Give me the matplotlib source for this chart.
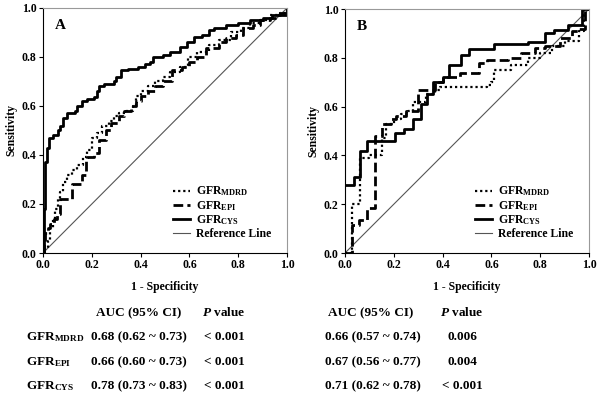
import numpy as np
import matplotlib
matplotlib.use("Agg")
import matplotlib.pyplot as plt

# ---- ROC data, points are (x where the curve steps up, y after step) ----
# Panel A
a_mdrd_x = [0, 0.01, 0.02, 0.03, 0.04, 0.05, 0.06, 0.07, 0.08, 0.10, 0.12, 0.14, 0.165, 0.18, 0.20, 0.22,
            0.24, 0.27, 0.29, 0.31, 0.34, 0.37, 0.38, 0.40, 0.43, 0.46, 0.49, 0.52, 0.56, 0.595, 0.63, 0.68,
            0.72, 0.77, 0.81, 0.85, 0.89, 0.93, 0.97, 1.0]
a_mdrd_y = [0, 0.02, 0.05, 0.10, 0.14, 0.18, 0.22, 0.25, 0.29, 0.32, 0.34, 0.36, 0.39, 0.42, 0.47, 0.49,
            0.52, 0.54, 0.56, 0.57, 0.58, 0.60, 0.64, 0.66, 0.68, 0.70, 0.72, 0.74, 0.76, 0.80, 0.82, 0.85,
            0.87, 0.90, 0.92, 0.94, 0.95, 0.97, 0.98, 1.0]

a_epi_x = [0, 0.005, 0.01, 0.02, 0.03, 0.045, 0.056, 0.07, 0.117, 0.16, 0.175, 0.18, 0.21, 0.23, 0.26,
           0.28, 0.31, 0.33, 0.36, 0.38, 0.40, 0.43, 0.46, 0.49, 0.53, 0.57, 0.60, 0.63, 0.67, 0.72, 0.75,
           0.79, 0.82, 0.86, 0.89, 0.93, 0.96, 1.0]
a_epi_y = [0, 0.04, 0.08, 0.10, 0.12, 0.14, 0.16, 0.22, 0.28, 0.32, 0.38, 0.39, 0.41, 0.46, 0.50,
           0.53, 0.56, 0.58, 0.60, 0.62, 0.64, 0.66, 0.68, 0.70, 0.745, 0.76, 0.78, 0.80, 0.836, 0.86, 0.876,
           0.89, 0.917, 0.93, 0.95, 0.96, 0.97, 1.0]

a_cys_x = [0, 0.005, 0.01, 0.015, 0.025, 0.04, 0.06, 0.07, 0.08, 0.10, 0.13, 0.14, 0.16, 0.18, 0.21,
           0.22, 0.23, 0.25, 0.29, 0.30, 0.32, 0.35, 0.39, 0.42, 0.44, 0.45, 0.49, 0.52, 0.56, 0.59, 0.62,
           0.65, 0.68, 0.70, 0.75, 0.80, 0.85, 0.90, 0.94, 0.97, 1.0]
a_cys_y = [0, 0.18, 0.37, 0.43, 0.47, 0.48, 0.50, 0.52, 0.55, 0.57, 0.58, 0.60, 0.62, 0.63, 0.635,
           0.66, 0.68, 0.69, 0.70, 0.72, 0.745, 0.75, 0.76, 0.77, 0.78, 0.80, 0.81, 0.82, 0.84, 0.86, 0.88,
           0.89, 0.91, 0.92, 0.93, 0.94, 0.95, 0.96, 0.97, 0.98, 1.0]

# Panel B
b_mdrd_x = [0, 0.03, 0.06, 0.10, 0.15, 0.17, 0.20, 0.23, 0.26, 0.28, 0.33, 0.37, 0.39, 0.58, 0.60,
            0.61, 0.68, 0.75, 0.80, 0.85, 0.90, 0.96, 0.98, 1.0]
b_mdrd_y = [0, 0.20, 0.39, 0.40, 0.47, 0.53, 0.55, 0.57, 0.58, 0.62, 0.65, 0.67, 0.68, 0.69, 0.70,
            0.75, 0.77, 0.80, 0.82, 0.85, 0.87, 0.91, 1.0, 1.0]

b_epi_x = [0, 0.03, 0.056, 0.09, 0.124, 0.15, 0.19, 0.21, 0.25, 0.30, 0.37, 0.40, 0.47, 0.55, 0.58,
           0.67, 0.72, 0.78, 0.82, 0.88, 0.93, 0.96, 0.985, 1.0]
b_epi_y = [0, 0.115, 0.135, 0.183, 0.48, 0.53, 0.55, 0.56, 0.58, 0.67, 0.70, 0.72, 0.736, 0.777, 0.79,
           0.80, 0.82, 0.84, 0.85, 0.88, 0.91, 0.92, 1.0, 1.0]

b_cys_x = [0, 0.035, 0.06, 0.09, 0.205, 0.24, 0.28, 0.31, 0.335, 0.36, 0.40, 0.425, 0.475, 0.51, 0.61,
           0.75, 0.82, 0.855, 0.915, 0.97, 1.0]
b_cys_y = [0.28, 0.31, 0.42, 0.46, 0.49, 0.51, 0.55, 0.61, 0.65, 0.70, 0.72, 0.77, 0.81, 0.835, 0.855,
           0.866, 0.90, 0.915, 0.934, 1.0, 1.0]

# ---- AUC table ----
row_labels = ["GFR$_{\\mathbf{MDRD}}$", "GFR$_{\\mathbf{EPI}}$", "GFR$_{\\mathbf{CYS}}$"]
auc_a = ["0.68 (0.62 ~ 0.73)", "0.66 (0.60 ~ 0.73)", "0.78 (0.73 ~ 0.83)"]
p_a = ["< 0.001", "< 0.001", "< 0.001"]
auc_b = ["0.66 (0.57 ~ 0.74)", "0.67 (0.56 ~ 0.77)", "0.71 (0.62 ~ 0.78)"]
p_b = ["0.006", "0.004", "< 0.001"]

ticks = [0.0, 0.2, 0.4, 0.6, 0.8, 1.0]
tick_labels = ["0.0", "0.2", "0.4", "0.6", "0.8", "1.0"]

plt.rcParams['font.family'] = ['Liberation Serif', 'DejaVu Serif']
plt.rcParams['font.weight'] = 'bold'
plt.rcParams['mathtext.fontset'] = 'custom'
plt.rcParams['mathtext.rm'] = 'Liberation Serif:bold'
plt.rcParams['mathtext.bf'] = 'Liberation Serif:bold'
plt.rcParams['mathtext.it'] = 'Liberation Serif:bold:italic'
plt.rcParams['mathtext.bfit'] = 'Liberation Serif:bold:italic'

W, H = 600, 396
fig = plt.figure(figsize=(6, 3.96), dpi=100)


def px_axes(x0, y0, x1, y1):
    return fig.add_axes([x0 / W, 1 - y1 / H, (x1 - x0) / W, (y1 - y0) / H])


def draw_panel(ax, letter, mdrd, epi, cys):
    ref, = ax.plot([0, 1], [0, 1], color='#555555', lw=0.8, zorder=1)
    l1, = ax.plot(mdrd[0], mdrd[1], drawstyle='steps-post', color='black', lw=1.6,
                  linestyle=(0, (1, 1.3)))
    l2, = ax.plot(epi[0], epi[1], drawstyle='steps-post', color='black', lw=2.0,
                  linestyle=(0, (3.5, 1.5)))
    l3, = ax.plot(cys[0], cys[1], drawstyle='steps-post', color='black', lw=2.0)
    ax.set_xlim(0, 1)
    ax.set_ylim(0, 1)
    ax.set_xticks(ticks)
    ax.set_xticklabels(tick_labels)
    ax.set_yticks(ticks)
    ax.set_yticklabels(tick_labels)
    ax.tick_params(direction='out', length=3, width=0.8, labelsize=8.5, pad=1.5)
    for s in ['top', 'right']:
        ax.spines[s].set_color('#999999')
        ax.spines[s].set_linewidth(0.8)
    for s in ['left', 'bottom']:
        ax.spines[s].set_color('black')
        ax.spines[s].set_linewidth(0.8)
    ax.set_ylabel('Sensitivity', fontsize=8.5, fontweight='bold', labelpad=3)
    ax.set_xlabel('1 - Specificity', fontsize=8.5, fontweight='bold', labelpad=7)
    ax.text(0.05, 0.93, letter, transform=ax.transAxes, fontsize=11, fontweight='bold',
            va='center', ha='left')
    ax.legend([l1, l2, l3, ref], row_labels + ['Reference Line'],
              loc='lower right', bbox_to_anchor=(0.97, 0.02), frameon=False, fontsize=8.5,
              handlelength=1.5, handletextpad=0.5, labelspacing=0.05, borderaxespad=0.3)


axA = px_axes(43, 8, 287, 253)
draw_panel(axA, 'A', (a_mdrd_x, a_mdrd_y), (a_epi_x, a_epi_y), (a_cys_x, a_cys_y))

axB = px_axes(345, 9, 589, 253)
draw_panel(axB, 'B', (b_mdrd_x, b_mdrd_y), (b_epi_x, b_epi_y), (b_cys_x, b_cys_y))

# ---- table under the plots ----
fs = 9.5
header_y = 313
row_y = [337, 362, 386]


def ftext(x, y, s, ha='center'):
    fig.text(x / W, 1 - y / H, s, ha=ha, va='center', fontsize=fs, fontweight='bold')


ftext(139, header_y, 'AUC (95% CI)')
ftext(224, header_y, '$\\mathbfit{P}$ value')
ftext(371, header_y, 'AUC (95% CI)')
ftext(462, header_y, '$\\mathbfit{P}$ value')

for i in range(3):
    ftext(26, row_y[i], row_labels[i], ha='left')
    ftext(139, row_y[i], auc_a[i])
    ftext(224, row_y[i], p_a[i])
    ftext(373, row_y[i], auc_b[i])
    ftext(462, row_y[i], p_b[i])

fig.savefig('out.png', dpi=100)
